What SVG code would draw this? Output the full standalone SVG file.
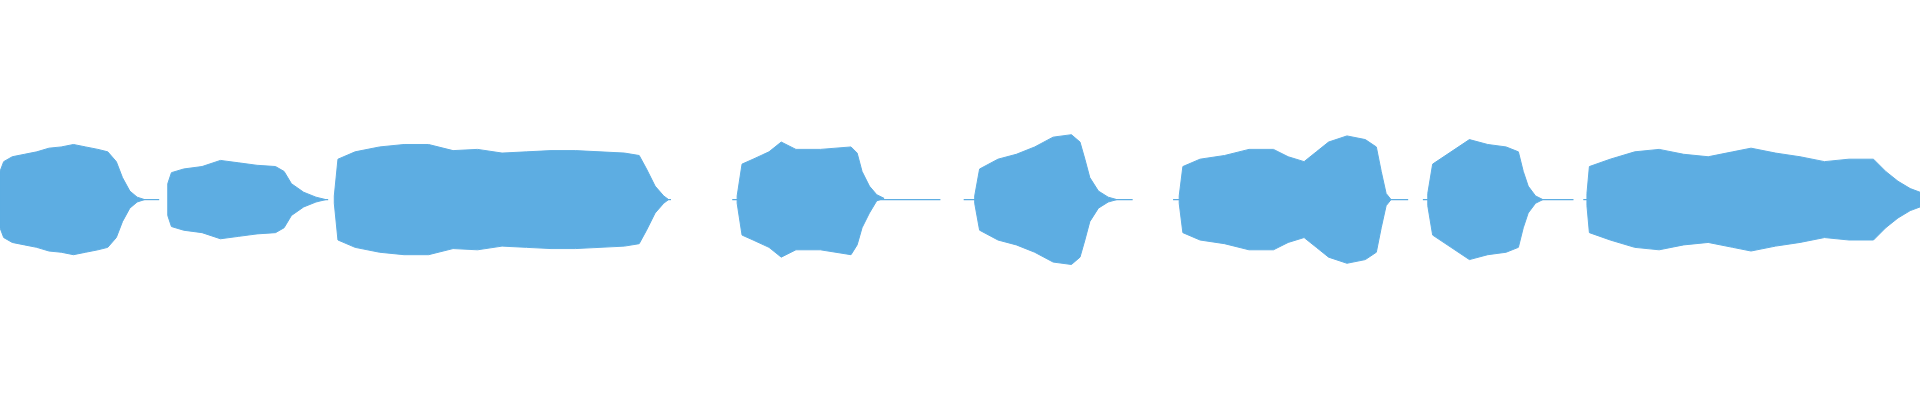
<svg xmlns="http://www.w3.org/2000/svg" width="1920" height="400" viewBox="0 0 1920 400">
<style>.w{fill:#5dade2;stroke:#5dade2;stroke-width:0.8;stroke-linejoin:miter}.l{stroke:#5dade2;stroke-width:1}</style>
<rect width="1920" height="400" fill="#fff"/>
<g transform="scale(1.2245)">
<g id="connectors">
<line class="l" x1="105" y1="163" x2="130" y2="163"/>
<line class="l" x1="240" y1="163" x2="268" y2="163"/>
<line class="l" x1="540" y1="163" x2="548" y2="163"/>
<line class="l" x1="598" y1="163" x2="768" y2="163"/>
<line class="l" x1="787" y1="163" x2="925" y2="163"/>
<line class="l" x1="958" y1="163" x2="1150" y2="163"/>
<line class="l" x1="1162" y1="163" x2="1285" y2="163"/>
<line class="l" x1="1293" y1="163" x2="1300" y2="163"/>
</g>
<g id="s1"><path class="w" d="M0,140 L3,132 L10,128 L20,126 L30,124 L40,121 L50,120 L60,118 L70,120 L80,122 L88,124 L95,132 L100,145 L106,156 L112,161 L118,163 L112,165 L106,170 L100,181 L95,194 L88,202 L80,204 L70,206 L60,208 L50,206 L40,205 L30,202 L20,200 L10,198 L3,194 L0,186 Z"/></g>
<g id="s2"><path class="w" d="M137,150 L140,141 L150,138 L165,136 L180,131 L195,133 L210,135 L225,136 L232,140 L238,150 L248,157 L258,161 L266,163 L258,165 L248,169 L238,176 L232,186 L225,190 L210,191 L195,193 L180,195 L165,190 L150,188 L140,185 L137,176 Z"/></g>
<g id="s3"><path class="w" d="M273,160 L276,130 L290,124 L310,120 L330,118 L350,118 L370,123 L390,122 L410,125 L430,124 L450,123 L470,123 L490,124 L510,125 L522,127 L528,138 L535,152 L542,160 L546,163 L542,166 L535,174 L528,188 L522,199 L510,201 L490,202 L470,203 L450,203 L430,202 L410,201 L390,204 L370,203 L350,208 L330,208 L310,206 L290,202 L276,196 L273,166 Z"/></g>
<g id="s4"><path class="w" d="M602,160 L606,134 L615,130 L628,124 L638,116 L650,122 L670,122 L695,120 L700,125 L704,140 L710,152 L716,159 L722,162 L716,164 L710,174 L704,186 L700,200 L695,208 L670,204 L650,204 L638,210 L628,202 L615,196 L606,192 L602,166 Z"/></g>
<g id="s5"><path class="w" d="M796,160 L800,138 L815,130 L830,126 L845,120 L860,112 L875,110 L882,116 L886,130 L890,145 L897,156 L905,161 L912,163 L905,165 L897,170 L890,181 L886,196 L882,210 L875,216 L860,214 L845,206 L830,200 L815,196 L800,188 L796,166 Z"/></g>
<g id="s6"><path class="w" d="M963,160 L966,136 L980,130 L1000,127 L1020,122 L1040,122 L1052,128 L1065,132 L1075,124 L1085,116 L1100,111 L1115,114 L1124,120 L1128,140 L1132,158 L1136,163 L1132,168 L1128,186 L1124,206 L1115,212 L1100,215 L1085,210 L1075,202 L1065,194 L1052,198 L1040,204 L1020,204 L1000,199 L980,196 L966,190 L963,166 Z"/></g>
<g id="s7"><path class="w" d="M1166,158 L1170,134 L1185,124 L1200,114 L1215,118 L1230,120 L1240,124 L1244,140 L1248,152 L1254,160 L1260,163 L1254,166 L1248,174 L1244,186 L1240,202 L1230,206 L1215,208 L1200,212 L1185,202 L1170,192 L1166,168 Z"/></g>
<g id="s8"><path class="w" d="M1296,158 L1298,136 L1315,130 L1335,124 L1355,122 L1375,126 L1395,128 L1415,124 L1430,121 L1450,125 L1470,128 L1490,132 L1510,130 L1530,130 L1540,140 L1550,148 L1560,154 L1568,157 L1568,169 L1560,172 L1550,178 L1540,186 L1530,196 L1510,196 L1490,194 L1470,198 L1450,201 L1430,205 L1415,202 L1395,198 L1375,200 L1355,204 L1335,202 L1315,196 L1298,190 L1296,168 Z"/></g>
</g>
</svg>
